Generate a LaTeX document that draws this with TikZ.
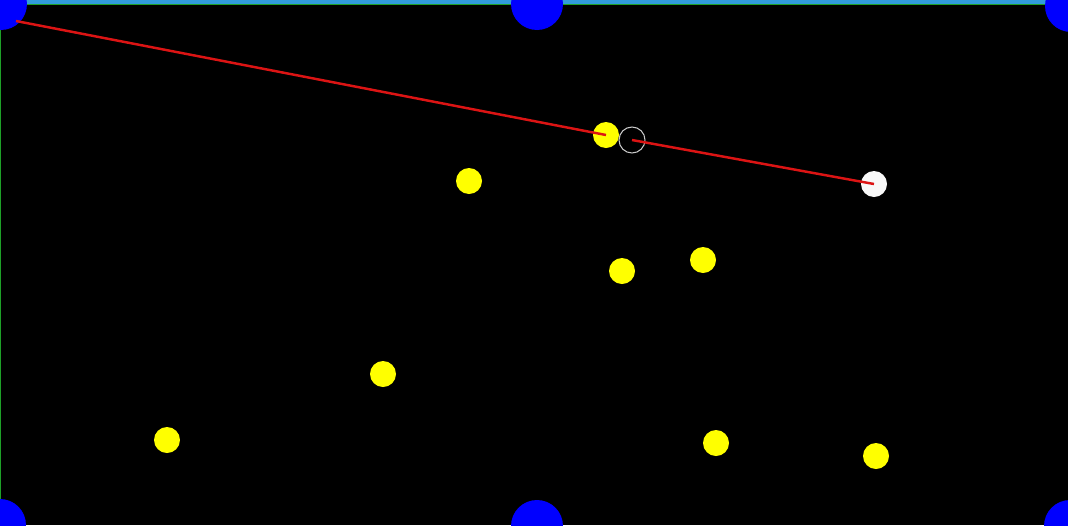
\documentclass[tikz,border=0pt]{standalone}
\definecolor{pocketblue}{RGB}{0,0,255}
\definecolor{ballyellow}{RGB}{255,255,0}
\definecolor{cuewhite}{RGB}{248,248,248}
\definecolor{ghostgray}{RGB}{200,200,200}
\definecolor{aimred}{RGB}{220,20,20}
\definecolor{railblue}{RGB}{50,155,220}
\definecolor{railgreen}{RGB}{30,160,40}
\begin{document}
\begin{tikzpicture}[
  x=0.02cm, y=-0.02cm,
  pocket/.style={circle, fill=pocketblue, inner sep=0pt, minimum size=1.04cm},
  ball/.style={circle, fill=ballyellow, inner sep=0pt, minimum size=0.52cm},
  cue/.style={circle, fill=cuewhite, inner sep=0pt, minimum size=0.52cm},
  ghost/.style={circle, draw=ghostgray, line width=0.6pt, inner sep=0pt, minimum size=0.52cm},
  aim/.style={draw=aimred, line width=1.4pt}
]

% Table background
\fill[black] (0,0) rectangle (1068,525);
\useasboundingbox (0,0) rectangle (1068,525);
\clip (0,0) rectangle (1068,525);

% Rails: top strip and thin green edges
\fill[railgreen] (0,0) rectangle (1068,5);
\fill[railgreen] (0,0) rectangle (1.5,525);
\fill[railblue] (0,0) rectangle (1068,4);

% Pockets
\node[pocket] (pocketTL) at (1,4) {};
\node[pocket] (pocketTM) at (537,4) {};
\node[pocket] (pocketTR) at (1071,6) {};
\node[pocket] (pocketBL) at (0,525) {};
\node[pocket] (pocketBM) at (537,526) {};
\node[pocket] (pocketBR) at (1070,526) {};

% Object balls
\node[ball] (target) at (606,135) {};
\node[ball] (ball2) at (469,181) {};
\node[ball] (ball3) at (622,271) {};
\node[ball] (ball4) at (703,260) {};
\node[ball] (ball5) at (383,374) {};
\node[ball] (ball6) at (167,440) {};
\node[ball] (ball7) at (716,443) {};
\node[ball] (ball8) at (876,456) {};

% Cue ball and ghost ball
\node[cue] (cueball) at (874,184) {};
\node[ghost] (ghostball) at (632,140) {};

% Aim lines
\coordinate (aimstart) at (16,21);
\draw[aim] (aimstart) -- (target.center);
\draw[aim] (ghostball.center) -- (cueball.center);

\end{tikzpicture}
\end{document}
